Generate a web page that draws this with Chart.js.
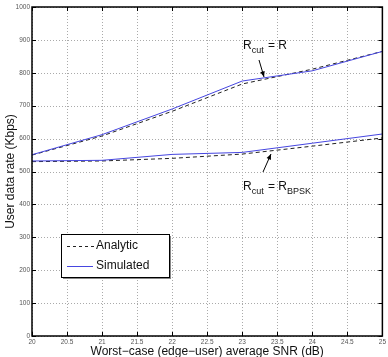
<!DOCTYPE html>
<html>
<head>
<meta charset="utf-8">
<script src="https://cdn.jsdelivr.net/npm/chart.js@4/dist/chart.umd.min.js"></script>
<style>
  html, body { margin: 0; padding: 0; background: #fff; }
  #wrap { width: 388px; height: 357px; }
</style>
</head>
<body>
<div id="wrap"><canvas id="c" width="388" height="357"></canvas></div>
<script>
const snr = [20, 21, 22, 23, 24, 25];
const upperAnalytic = [550, 608, 683, 766, 811, 865];
const upperSimulated = [551, 612, 690, 775, 806, 865];
const lowerAnalytic = [530, 532, 540, 553, 577, 602];
const lowerSimulated = [532, 534, 552, 558, 586, 614];

const FONT = "'Liberation Sans', Arial, sans-serif";
const BLUE = "#4646e0";

function pts(ys) {
  return snr.map((x, i) => ({ x, y: ys[i] }));
}

function lineSet(label, ys, dashed) {
  return {
    label,
    data: pts(ys),
    showLine: true,
    borderColor: dashed ? "#222" : BLUE,
    borderWidth: 1,
    borderDash: dashed ? [4, 3] : [],
    pointRadius: 0,
    tension: 0
  };
}

// dotted grid drawn from the scales' own ticks
const dottedGrid = {
  id: "dottedGrid",
  beforeDatasetsDraw(chart) {
    const { ctx, chartArea: a, scales } = chart;
    ctx.save();
    ctx.strokeStyle = "#aaa";
    ctx.lineWidth = 1;
    ctx.setLineDash([1, 2]);
    ctx.beginPath();
    scales.x.ticks.forEach((t) => {
      const px = Math.round(scales.x.getPixelForValue(t.value)) + 0.5;
      ctx.moveTo(px, a.top); ctx.lineTo(px, a.bottom);
    });
    scales.y.ticks.forEach((t) => {
      const py = Math.round(scales.y.getPixelForValue(t.value)) + 0.5;
      ctx.moveTo(a.left, py); ctx.lineTo(a.right, py);
    });
    ctx.stroke();
    ctx.restore();
  }
};

// matlab-like box, inward ticks, legend and text annotations
const decorations = {
  id: "decorations",
  afterDraw(chart) {
    const { ctx, chartArea: a, scales } = chart;
    const xs = scales.x, ys = scales.y;
    ctx.save();
    ctx.strokeStyle = "#000";
    ctx.lineWidth = 1;
    ctx.beginPath();
    xs.ticks.forEach((t) => {
      const px = Math.round(xs.getPixelForValue(t.value)) + 0.5;
      ctx.moveTo(px, a.bottom); ctx.lineTo(px, a.bottom - 4);
      ctx.moveTo(px, a.top); ctx.lineTo(px, a.top + 4);
    });
    ys.ticks.forEach((t) => {
      const py = Math.round(ys.getPixelForValue(t.value)) + 0.5;
      ctx.moveTo(a.left, py); ctx.lineTo(a.left + 4, py);
      ctx.moveTo(a.right, py); ctx.lineTo(a.right - 4, py);
    });
    ctx.stroke();
    ctx.lineWidth = 1.5;
    ctx.strokeRect(a.left, a.top, a.right - a.left, a.bottom - a.top);

    // legend
    const lx = 61, ly = 234, lw = 108, lh = 43;
    ctx.fillStyle = "#888";
    ctx.fillRect(lx + 2, ly + 2, lw, lh);
    ctx.fillStyle = "#fff";
    ctx.fillRect(lx, ly, lw, lh);
    ctx.lineWidth = 1;
    ctx.strokeStyle = "#000";
    ctx.strokeRect(lx + 0.5, ly + 0.5, lw, lh);
    ctx.beginPath();
    ctx.setLineDash([3, 3]);
    ctx.strokeStyle = "#222";
    ctx.moveTo(67, 246.5); ctx.lineTo(94, 246.5);
    ctx.stroke();
    ctx.setLineDash([]);
    ctx.beginPath();
    ctx.strokeStyle = BLUE;
    ctx.moveTo(67, 266.5); ctx.lineTo(93, 266.5);
    ctx.stroke();
    ctx.fillStyle = "#111";
    ctx.font = "12px " + FONT;
    ctx.textBaseline = "middle";
    ctx.fillText("Analytic", 96, 246);
    ctx.fillText("Simulated", 96, 266);

    // annotations
    function rlabel(x, y, sub, tail, tailSub) {
      ctx.font = "12px " + FONT;
      ctx.textBaseline = "alphabetic";
      ctx.fillText("R", x, y);
      let cx = x + ctx.measureText("R").width;
      ctx.font = "9px " + FONT;
      ctx.fillText(sub, cx, y + 4);
      cx += ctx.measureText(sub).width + 1;
      ctx.font = "12px " + FONT;
      ctx.fillText(tail, cx, y);
      cx += ctx.measureText(tail).width;
      if (tailSub) {
        ctx.font = "9px " + FONT;
        ctx.fillText(tailSub, cx, y + 4);
      }
    }
    rlabel(243, 49, "cut", " = R", null);
    rlabel(243, 190, "cut", " = R", "BPSK");

    function arrow(x1, y1, x2, y2) {
      ctx.beginPath();
      ctx.strokeStyle = "#000";
      ctx.lineWidth = 1;
      ctx.moveTo(x1, y1); ctx.lineTo(x2, y2);
      ctx.stroke();
      const ang = Math.atan2(y2 - y1, x2 - x1);
      ctx.beginPath();
      ctx.fillStyle = "#000";
      ctx.moveTo(x2, y2);
      ctx.lineTo(x2 - 6 * Math.cos(ang - 0.4), y2 - 6 * Math.sin(ang - 0.4));
      ctx.lineTo(x2 - 6 * Math.cos(ang + 0.4), y2 - 6 * Math.sin(ang + 0.4));
      ctx.closePath();
      ctx.fill();
    }
    arrow(259, 60, 264, 77);
    arrow(263, 172, 271, 154);
    ctx.restore();
  }
};

new Chart(document.getElementById("c"), {
  type: "scatter",
  data: {
    datasets: [
      lineSet("Simulated", upperSimulated, false),
      lineSet("Analytic", upperAnalytic, true),
      lineSet("Simulated", lowerSimulated, false),
      lineSet("Analytic", lowerAnalytic, true)
    ]
  },
  options: {
    responsive: false,
    animation: false,
    layout: { padding: { top: 7, right: 4, left: 0, bottom: 0 } },
    plugins: { legend: { display: false }, tooltip: { enabled: false } },
    scales: {
      x: {
        type: "linear",
        min: 20,
        max: 25,
        afterFit(s) { s.height = 21; },
        ticks: {
          stepSize: 0.5,
          padding: 2,
          color: "#555",
          font: { size: 6.5, family: FONT },
          maxRotation: 0,
          autoSkip: false,
          callback: (v) => String(v)
        },
        grid: { display: true, drawOnChartArea: false, drawTicks: false, tickLength: 0, color: "rgba(0,0,0,0)" },
        border: { display: false },
        title: {
          display: true,
          text: "Worst\u2212case (edge\u2212user) average SNR (dB)",
          color: "#111",
          font: { size: 12, family: FONT, lineHeight: 0.9 },
          padding: { top: 0, bottom: 0 }
        }
      },
      y: {
        min: 0,
        max: 1000,
        afterFit(s) { s.width = 32; },
        ticks: {
          stepSize: 100,
          padding: 2,
          color: "#555",
          font: { size: 6.5, family: FONT },
          autoSkip: false,
          callback: (v) => String(v)
        },
        grid: { display: true, drawOnChartArea: false, drawTicks: false, tickLength: 0, color: "rgba(0,0,0,0)" },
        border: { display: false },
        title: {
          display: true,
          text: "User data rate (Kbps)",
          color: "#111",
          font: { size: 12, family: FONT },
          padding: { top: 3, bottom: 0 }
        }
      }
    }
  },
  plugins: [dottedGrid, decorations]
});
</script>
</body>
</html>
